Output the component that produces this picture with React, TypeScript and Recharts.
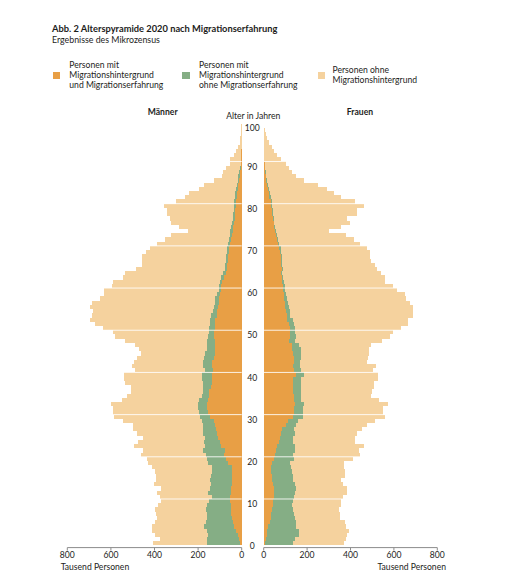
import React from 'react';
import { BarChart, Bar, XAxis, YAxis, ReferenceLine } from 'recharts';

// Jahrgänge 0 bis 100, Werte in Tausend Personen
const ages = [
  0, 1, 2, 3, 4, 5, 6, 7, 8, 9, 10, 11, 12, 13, 14, 15, 16, 17, 18, 19,
  20, 21, 22, 23, 24, 25, 26, 27, 28, 29, 30, 31, 32, 33, 34, 35, 36, 37, 38, 39,
  40, 41, 42, 43, 44, 45, 46, 47, 48, 49, 50, 51, 52, 53, 54, 55, 56, 57, 58, 59,
  60, 61, 62, 63, 64, 65, 66, 67, 68, 69, 70, 71, 72, 73, 74, 75, 76, 77, 78, 79,
  80, 81, 82, 83, 84, 85, 86, 87, 88, 89, 90, 91, 92, 93, 94, 95, 96, 97, 98, 99, 100,
];

const menExperience = [
  8, 12, 18, 26, 35, 41, 46, 49, 50, 49,
  52, 52, 49, 49, 46, 44, 43, 43, 44, 61,
  73, 80, 77, 96, 99, 107, 115, 119, 122, 127,
  145, 153, 158, 158, 153, 150, 150, 142, 138, 138,
  138, 130, 138, 135, 127, 122, 122, 121, 121, 127,
  125, 122, 121, 121, 115, 113, 110, 106, 102, 99,
  93, 93, 89, 83, 73, 69, 67, 64, 63, 60,
  57, 54, 47, 44, 41, 38, 35, 32, 31, 29,
  26, 26, 23, 20, 17, 15, 12, 9, 6, 5,
  3, 2, 1, 1, 0, 0, 0, 0, 0, 0, 0,
];
const menBackground = [
  153, 146, 138, 135, 136, 123, 115, 109, 114, 112,
  96, 83, 104, 96, 96, 101, 99, 95, 94, 92,
  88, 85, 102, 72, 74, 61, 61, 60, 57, 57,
  46, 44, 42, 41, 41, 34, 26, 34, 41, 43,
  43, 40, 38, 41, 46, 45, 39, 37, 37, 29,
  26, 28, 26, 23, 24, 17, 15, 16, 20, 13,
  13, 11, 10, 10, 14, 7, 8, 9, 7, 9,
  9, 7, 11, 8, 11, 11, 9, 9, 7, 6,
  9, 9, 9, 9, 11, 6, 6, 6, 6, 3,
  2, 1, 1, 1, 0, 0, 0, 0, 0, 0, 0,
];
const menNone = [
  244, 217, 242, 249, 239, 234, 229, 235, 232, 221,
  224, 240, 237, 227, 259, 248, 251, 258, 275, 275,
  272, 299, 272, 326, 301, 286, 303, 318, 318, 362,
  395, 392, 392, 401, 357, 344, 332, 332, 357, 358,
  359, 320, 329, 318, 309, 297, 309, 332, 378, 425,
  438, 485, 526, 552, 546, 551, 571, 566, 528, 518,
  524, 493, 493, 450, 448, 409, 384, 383, 386, 370,
  355, 329, 294, 274, 194, 239, 282, 288, 306, 306,
  320, 266, 228, 211, 168, 150, 109, 74, 72, 65,
  49, 51, 33, 26, 15, 9, 6, 3, 2, 1, 0,
];

const womenExperience = [
  6, 9, 14, 17, 21, 29, 34, 35, 38, 41,
  44, 46, 46, 46, 43, 40, 38, 35, 32, 37,
  49, 52, 57, 63, 72, 75, 78, 86, 103, 112,
  136, 138, 141, 142, 138, 138, 136, 136, 133, 133,
  148, 141, 136, 138, 138, 136, 132, 130, 116, 121,
  122, 119, 118, 109, 106, 103, 99, 96, 95, 92,
  90, 87, 84, 83, 78, 83, 80, 78, 78, 75,
  72, 67, 60, 55, 52, 49, 46, 41, 38, 37,
  34, 32, 26, 23, 20, 17, 12, 9, 8, 6,
  5, 3, 1, 0, 0, 0, 0, 0, 0, 0, 0,
];
const womenBackground = [
  127, 135, 148, 145, 129, 118, 108, 106, 98, 91,
  92, 93, 99, 101, 101, 96, 97, 97, 93, 84,
  92, 81, 87, 81, 61, 61, 66, 53, 45, 44,
  45, 41, 41, 43, 36, 36, 35, 35, 37, 41,
  39, 30, 31, 30, 36, 38, 41, 32, 29, 26,
  22, 23, 20, 26, 16, 16, 17, 14, 12, 11,
  8, 9, 9, 7, 8, 4, 4, 5, 5, 6,
  6, 5, 7, 8, 5, 3, 3, 5, 5, 4,
  4, 5, 6, 5, 4, 3, 2, 2, 1, 2,
  0, 0, 0, 0, 0, 0, 0, 0, 0, 0, 0,
];
const womenNone = [
  236, 237, 222, 230, 228, 229, 211, 209, 210, 226,
  222, 228, 237, 235, 222, 222, 238, 241, 245, 249,
  269, 309, 295, 316, 286, 283, 287, 315, 328, 359,
  376, 370, 367, 387, 357, 322, 329, 335, 339, 352,
  342, 332, 352, 308, 306, 311, 312, 334, 401, 433,
  451, 491, 529, 529, 566, 569, 572, 562, 549, 550,
  517, 499, 468, 471, 455, 436, 427, 413, 408, 407,
  398, 373, 348, 315, 243, 306, 347, 340, 388, 389,
  422, 382, 326, 298, 268, 229, 173, 140, 123, 110,
  96, 75, 59, 47, 37, 24, 17, 9, 5, 2, 0,
];

const valueTicks = [0, 200, 400, 600, 800];
const ageTicks = [0, 10, 20, 30, 40, 50, 60, 70, 80, 90, 100];
const gridAges = [10, 20, 30, 40, 50, 60, 70, 80, 90];

const legendItems = [
  { color: '#E89F45', lines: ['Personen mit', 'Migrationshintergrund', 'und Migrationserfahrung'] },
  { color: '#85AE85', lines: ['Personen mit', 'Migrationshintergrund', 'ohne Migrationserfahrung'] },
  { color: '#F5D29E', lines: ['Personen ohne', 'Migrationshintergrund'] },
];

const FONT = 'Lato, sans-serif';
const INK = '#1d1d1b';

const menRows = ages.map((age, i) => ({
  age,
  experience: menExperience[i],
  background: menBackground[i],
  none: menNone[i],
}));
const womenRows = ages.map((age, i) => ({
  age,
  experience: womenExperience[i],
  background: womenBackground[i],
  none: womenNone[i],
}));

const CHART_HEIGHT = 583;
const AXIS_HEIGHT = 20;
// knapp unter der Bandbreite, sonst schrumpft Recharts die Balken auf 90 %
const ROW_HEIGHT = 4.2;
const chartMargin = { top: 119.3, bottom: 35.4 - AXIS_HEIGHT };

const AgeTick = (props: any) => {
  const { x, y, payload } = props;
  const nudge = payload.value === 100 ? 7.6 : 3.8;
  return (
    <text x={x - 3.5} y={y + nudge} textAnchor="middle" dominantBaseline="middle" fontSize={8.6} fill={INK} fontFamily={FONT}>
      {payload.value}
    </text>
  );
};

const Label = ({ x, y, align = 'left', bold = false, size = 8.6, children }: any) => (
  <div
    style={{
      position: 'absolute',
      left: align === 'left' ? x : x - 150,
      width: align === 'left' ? undefined : 300,
      top: y - 8,
      height: 16,
      lineHeight: '16px',
      textAlign: align,
      whiteSpace: 'nowrap',
      fontFamily: FONT,
      fontSize: size,
      fontWeight: bold ? 700 : 400,
      color: INK,
    }}
  >
    {children}
  </div>
);

function bars() {
  return [
    <Bar key="a" dataKey="experience" stackId="s" fill="#E89F45" barSize={ROW_HEIGHT} shapeRendering="crispEdges" isAnimationActive={false} />,
    <Bar key="b" dataKey="background" stackId="s" fill="#85AE85" barSize={ROW_HEIGHT} shapeRendering="crispEdges" isAnimationActive={false} />,
    <Bar key="c" dataKey="none" stackId="s" fill="#F5D29E" barSize={ROW_HEIGHT} shapeRendering="crispEdges" isAnimationActive={false} />,
  ];
}

function gridLines() {
  return gridAges.map((age) => (
    <ReferenceLine key={age} y={age} position="start" stroke="#ffffff" strokeOpacity={0.85} strokeWidth={1} />
  ));
}

export default function App() {
  const xProps = {
    type: 'number' as const,
    domain: [0, 800],
    ticks: valueTicks,
    interval: 0 as const,
    height: AXIS_HEIGHT,
    stroke: '#8c8c8c',
    tickSize: 3,
    tickMargin: 1,
    tick: { fontSize: 8.6, fill: INK, fontFamily: FONT },
  };
  return (
    <div style={{ position: 'absolute', left: 0, top: 0, width: 520, height: 583, background: '#fff', overflow: 'hidden' }}>
      <Label x={52} y={29} bold size={9.3}>Abb. 2 Alterspyramide 2020 nach Migrationserfahrung</Label>
      <Label x={52} y={40} size={8.8}>Ergebnisse des Mikrozensus</Label>

      {legendItems.map((item, i) => {
        const swatchX = [52.7, 182, 317.7][i];
        const textX = [69.3, 199, 332.5][i];
        const startY = item.lines.length === 3 ? 65 : 70;
        return (
          <React.Fragment key={i}>
            <div style={{ position: 'absolute', left: swatchX, top: 71.5, width: 7.5, height: 7.5, background: item.color }} />
            {item.lines.map((line, j) => (
              <Label key={j} x={textX} y={startY + j * 10}>{line}</Label>
            ))}
          </React.Fragment>
        );
      })}

      <Label x={162.7} y={112} align="center" bold>Männer</Label>
      <Label x={360} y={112} align="center" bold>Frauen</Label>
      <Label x={253.3} y={116} align="center">Alter in Jahren</Label>

      <div style={{ position: 'absolute', left: 0, top: 0 }}>
        <BarChart
          width={250}
          height={CHART_HEIGHT}
          data={menRows}
          layout="vertical"
          barCategoryGap={0}
          margin={{ ...chartMargin, left: 67.3, right: 8.3 }}
        >
          <XAxis {...xProps} reversed />
          <YAxis type="category" dataKey="age" reversed hide padding={{ top: 0, bottom: 2.2 }} />
          {bars()}
          {gridLines()}
        </BarChart>
      </div>
      <div style={{ position: 'absolute', left: 240, top: 0 }}>
        <BarChart
          width={280}
          height={CHART_HEIGHT}
          data={womenRows}
          layout="vertical"
          barCategoryGap={0}
          margin={{ ...chartMargin, left: 0, right: 82.7 }}
        >
          <XAxis {...xProps} />
          <YAxis
            type="category"
            dataKey="age"
            reversed
            width={23.7}
            ticks={ageTicks}
            interval={0}
            axisLine={false}
            tickLine={false}
            tick={AgeTick}
            padding={{ top: 0, bottom: 2.2 }}
          />
          {bars()}
          {gridLines()}
        </BarChart>
      </div>

      <Label x={60.7} y={567} size={8.6}>Tausend Personen</Label>
      <div style={{ position: 'absolute', right: 74, top: 559, height: 16, lineHeight: '16px', whiteSpace: 'nowrap', fontFamily: FONT, fontSize: 8.6, color: INK }}>
        Tausend Personen
      </div>
    </div>
  );
}
